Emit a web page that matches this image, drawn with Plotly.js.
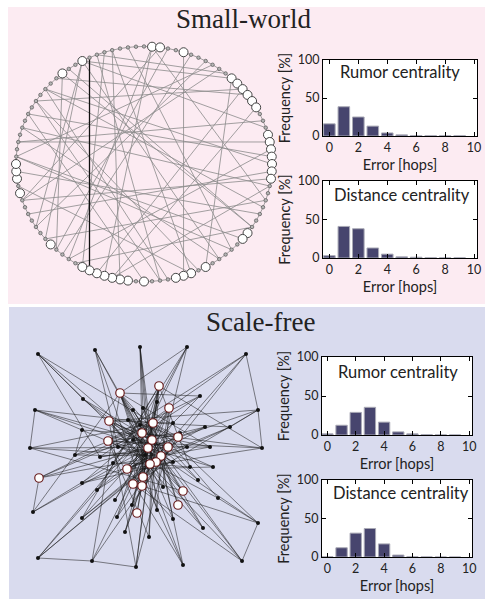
<!DOCTYPE html>
<html><head><meta charset="utf-8">
<script src="https://cdn.plot.ly/plotly-3.0.1.min.js"></script>
<style>html,body{margin:0;padding:0;background:#fff;}#chart{width:485px;height:599px;}</style>
</head><body><div id="chart"></div>
<script>
// ---------- histogram data ----------
const errorBins = [0,1,2,3,4,5,6,7,8,9];
const xTickVals = [0,2,4,6,8,10];
const yTickVals = [0,50,100];
const swRumor    = [16, 38.5, 25, 13, 4, 1.5, 0.6, 0.4, 0.4, 0.4];
const swDistance = [3, 41, 38, 13, 5, 1.5, 1, 0.3, 0.2, 0.2];
const sfRumor    = [1.5, 12.5, 29, 35.5, 16.5, 4, 1.5, 0.5, 0.2, 0.1];
const sfDistance = [0.3, 12, 31, 37, 17, 2.5, 0.3, 0.1, 0, 0];

// ---------- small-world network (ring of N nodes) ----------
const swN = 100;
const swBigNodes = [1,2,5,12,13,14,15,16,17,21,22,23,24,25,26,27,35,36,42,44,45,46,50,52,53,54,55,56,57,58,63,71,73,74,75,89,92];
const swShortcuts = [[5,45],[1,60],[1,55],[2,70],[1,30],
 [92,66],[92,64],[92,20],[92,40],[92,12],
 [89,62],[89,34],[86,25],[84,14],[84,48],
 [80,28],[78,22],[76,38],[74,32],[72,44],[70,10],[68,26],[66,8],[64,30],
 [61,6],[59,34],[56,14],[54,28],[53,96],
 [50,82],[48,94],[47,86],[44,96],[43,84],[42,12],
 [40,80],[38,98],[36,76],[34,90],[31,86],[27,70],[24,82],[23,60],[19,78],[17,54],[15,88],[11,94],[9,76],[3,62],[95,58]];
const swHighlightEdge = [93,57];

// ---------- scale-free network ----------
const sfX = [8,65,110,157,216,5,53,170,228,0,232,52,3,52,52,228,8,62,106,153,212,95,119,143,173,200,
 113,98,103,88,70,45,83,143,157,180,183,168,188,160,133,127,102,85,67,87,143,175,103,127,150,115,110,
 90,129,139,79,123,112,122,148,78,118,138,131,126,120,97,113,103,112,9,153,148,107];
const sfY = [213,217,220,220,213,157,168,171,157,119,119,137,55,84,49,44,9,6,0,2,6,35,30,48,39,140,
 159,147,127,120,110,112,104,105,120,120,100,87,69,100,80,57,62,67,77,50,144,140,157,165,134,112,142,
 174,181,159,146,144,134,127,130,126,119,120,111,105,103,98,90,83,81,89,76,62,54];
const sfHubStart = 53;
const sfEdges = [
 [0,57],[0,62],[0,66],[0,6],[0,30],[1,58],[1,65],[1,29],[1,70],
 [2,62],[2,68],[2,59],[2,41],[2,26],[3,64],[3,67],[3,53],[3,44],[3,49],
 [4,66],[4,61],[4,70],[4,55],[4,8],[5,57],[5,63],[5,11],[5,62],[5,9],
 [6,59],[6,64],[6,56],[7,61],[7,67],[7,58],[7,53],
 [8,62],[8,56],[8,69],[8,10],[8,25],[9,57],[9,64],[9,35],[9,72],
 [10,58],[10,67],[10,61],[10,54],[11,65],[11,60],[11,31],
 [12,62],[12,53],[12,59],[12,71],[13,64],[13,57],[13,33],
 [14,59],[14,66],[14,54],[14,63],[15,57],[15,70],[15,56],[15,38],[15,20],
 [16,58],[16,64],[16,55],[16,17],[16,66],[17,62],[17,60],[17,18],[17,53],
 [18,59],[18,56],[18,54],[18,63],[19,57],[19,61],[19,68],[19,53],
 [20,64],[20,53],[20,69],[20,56],[21,62],[21,55],[21,66],[22,57],[22,61],[22,54],
 [23,64],[23,67],[23,53],[24,59],[24,56],[24,62],[25,57],[25,66],[25,67],
 [26,57],[26,64],[26,69],[27,62],[27,60],[28,59],[28,63],[28,72],[29,64],[29,57],
 [30,62],[30,55],[30,63],[31,57],[31,59],[31,64],[32,66],[32,54],[33,62],[33,56],
 [34,57],[34,61],[34,67],[35,64],[35,58],[35,53],[36,62],[36,67],[36,56],[37,59],[37,53],
 [38,57],[38,61],[39,66],[39,54],[40,62],[40,56],[40,55],[41,64],[41,53],
 [42,57],[42,60],[42,54],[43,59],[43,55],[44,62],[44,60],[45,64],[45,55],[45,54],
 [46,56],[46,69],[47,62],[47,67],[47,59],[48,64],[48,72],[49,57],[49,70],[50,61],[50,65],
 [51,57],[51,54],[52,53],[52,68],
 [53,62],[54,57],[55,64],[56,59],[57,62],[58,64],[59,66],[60,57],[61,64],[62,65],[63,57],
 [65,68],[66,69],[67,62],[68,64],[69,57],[70,62],[71,62],[71,64],[71,57],[72,62],[73,64],
 [73,57],[74,62],[74,57],[71,58]];

// ---------- build network traces ----------
function ringPos(i){ const a = 2*Math.PI*i/swN; return [Math.sin(a), Math.cos(a)]; }
const swEx = [], swEy = [];
const swAllEdges = [];
for (let i=0;i<swN;i++) swAllEdges.push([i,(i+1)%swN]);
swShortcuts.forEach(e=>swAllEdges.push(e));
swAllEdges.forEach(([a,b])=>{ const p=ringPos(a), q=ringPos(b); swEx.push(p[0],q[0],null); swEy.push(p[1],q[1],null); });
const hp = ringPos(swHighlightEdge[0]), hq = ringPos(swHighlightEdge[1]);
const swSmallX=[], swSmallY=[], swBigX=[], swBigY=[];
for (let i=0;i<swN;i++){ const p=ringPos(i); if (swBigNodes.includes(i)){swBigX.push(p[0]);swBigY.push(p[1]);} else {swSmallX.push(p[0]);swSmallY.push(p[1]);} }

const sfEx=[], sfEy=[];
sfEdges.forEach(([a,b])=>{ sfEx.push(sfX[a],sfX[b],null); sfEy.push(sfY[a],sfY[b],null); });

const traces = [
 {x:swEx,y:swEy,mode:'lines',line:{color:'#8a8a8a',width:0.8},xaxis:'x',yaxis:'y',hoverinfo:'skip'},
 {x:[hp[0],hq[0]],y:[hp[1],hq[1]],mode:'lines',line:{color:'#111',width:1.3},xaxis:'x',yaxis:'y',hoverinfo:'skip'},
 {x:swSmallX,y:swSmallY,mode:'markers',marker:{size:3.5,color:'#b5b5b5',line:{color:'#555',width:0.7}},xaxis:'x',yaxis:'y',cliponaxis:false},
 {x:swBigX,y:swBigY,mode:'markers',marker:{size:9,color:'#fff',line:{color:'#444',width:1}},xaxis:'x',yaxis:'y',cliponaxis:false},
 {x:sfEx,y:sfEy,mode:'lines',line:{color:'rgba(25,25,25,0.75)',width:0.7},xaxis:'x2',yaxis:'y2',hoverinfo:'skip'},
 {x:sfX.slice(0,sfHubStart),y:sfY.slice(0,sfHubStart),mode:'markers',marker:{size:4,color:'#111'},xaxis:'x2',yaxis:'y2',cliponaxis:false},
 {x:sfX.slice(sfHubStart),y:sfY.slice(sfHubStart),mode:'markers',marker:{size:8.5,color:'#fff',line:{color:'#6b1f1f',width:1.2}},xaxis:'x2',yaxis:'y2',cliponaxis:false}
];
const barStyle = {color:'#47456e',line:{color:'#a9a9b5',width:1}};
[[swRumor,'x3','y3'],[swDistance,'x4','y4'],[sfRumor,'x5','y5'],[sfDistance,'x6','y6']].forEach(([v,xa,ya])=>{
 traces.push({type:'bar',x:errorBins,y:v,width:0.8,marker:barStyle,xaxis:xa,yaxis:ya});
});

const W=485,H=599;
const px = v=>v/W, py = v=>1-v/H;
const netAxis = (dom,rng)=>({domain:dom,range:rng,visible:false,showgrid:false,zeroline:false,fixedrange:true});
const tickFont = {family:'Lato, Open Sans, sans-serif',size:12.5,color:'#222'};
const titleFont = {family:'Lato, Open Sans, sans-serif',size:14.5,color:'#222'};
function hx(dom,rng,anc){return {domain:dom,range:rng,anchor:anc,tickvals:xTickVals,ticks:'inside',ticklen:4,tickcolor:'#000',showline:true,linecolor:'#000',linewidth:1,mirror:'ticks',showgrid:false,zeroline:false,tickfont:tickFont,title:{text:'Error [hops]',font:titleFont,standoff:5}};}
function hy(dom,anc){return {domain:dom,range:[0,100],anchor:anc,tickvals:yTickVals,ticks:'inside',ticklen:4,tickcolor:'#000',showline:true,linecolor:'#000',linewidth:1,mirror:'ticks',showgrid:false,zeroline:false,tickfont:tickFont,title:{text:'Frequency [%]',font:titleFont,standoff:3}};}

const swHX=[px(323),px(477)], sfHX=[px(322),px(472)];
const annFont = {family:'Lato, sans-serif',size:16.5,color:'#222'};
const layout = {
 width:W,height:H,margin:{l:0,r:0,t:0,b:0},showlegend:false,
 paper_bgcolor:'#fff',plot_bgcolor:'rgba(0,0,0,0)',bargap:0,
 xaxis:netAxis([px(9.6),px(278.4)],[-1.05,1.05]),
 yaxis:netAxis([py(287.4),py(40.6)],[-1.05,1.05]),
 xaxis2:Object.assign(netAxis([px(25),px(267)],[-5,237]),{anchor:'y2'}),
 yaxis2:Object.assign(netAxis([py(572),py(342)],[-5,225]),{anchor:'x2'}),
 xaxis3:hx(swHX,[-0.44,10.2],'y3'), yaxis3:hy([py(136),py(60)],'x3'),
 xaxis4:hx(swHX,[-0.44,10.2],'y4'), yaxis4:hy([py(258),py(181)],'x4'),
 xaxis5:hx(sfHX,[-0.38,10.2],'y5'), yaxis5:hy([py(435),py(357)],'x5'),
 xaxis6:hx(sfHX,[-0.38,10.2],'y6'), yaxis6:hy([py(557),py(480)],'x6'),
 shapes:[
  {type:'rect',xref:'paper',yref:'paper',x0:px(8),x1:1,y0:py(304),y1:py(7),fillcolor:'#fcebf2',line:{width:0},layer:'below'},
  {type:'rect',xref:'paper',yref:'paper',x0:px(9),x1:1,y0:0,y1:py(307),fillcolor:'#d9dbee',line:{width:0},layer:'below'},
  ...['x3','x4','x5','x6'].map((a,i)=>({type:'rect',xref:a+' domain',yref:'y'+(i+3)+' domain',x0:0,x1:1,y0:0,y1:1,fillcolor:'#fff',line:{width:0},layer:'below'}))
 ],
 annotations:[
  {text:'Small-world',xref:'paper',yref:'paper',x:px(243),y:py(19),xanchor:'center',yanchor:'middle',showarrow:false,font:{family:'Liberation Serif, Times New Roman, serif',size:27,color:'#222'}},
  {text:'Scale-free',xref:'paper',yref:'paper',x:px(260),y:py(322),xanchor:'center',yanchor:'middle',showarrow:false,font:{family:'Liberation Serif, Times New Roman, serif',size:27,color:'#222'}},
  {text:'Rumor centrality',xref:'x3 domain',yref:'y3 domain',x:0.5,y:0.846,xanchor:'center',yanchor:'middle',showarrow:false,font:annFont},
  {text:'Distance centrality',xref:'x4 domain',yref:'y4 domain',x:0.516,y:0.818,xanchor:'center',yanchor:'middle',showarrow:false,font:annFont},
  {text:'Rumor centrality',xref:'x5 domain',yref:'y5 domain',x:0.505,y:0.81,xanchor:'center',yanchor:'middle',showarrow:false,font:annFont},
  {text:'Distance centrality',xref:'x6 domain',yref:'y6 domain',x:0.527,y:0.83,xanchor:'center',yanchor:'middle',showarrow:false,font:annFont}
 ]
};
Plotly.newPlot('chart',traces,layout,{staticPlot:true,displayModeBar:false});
</script></body></html>
